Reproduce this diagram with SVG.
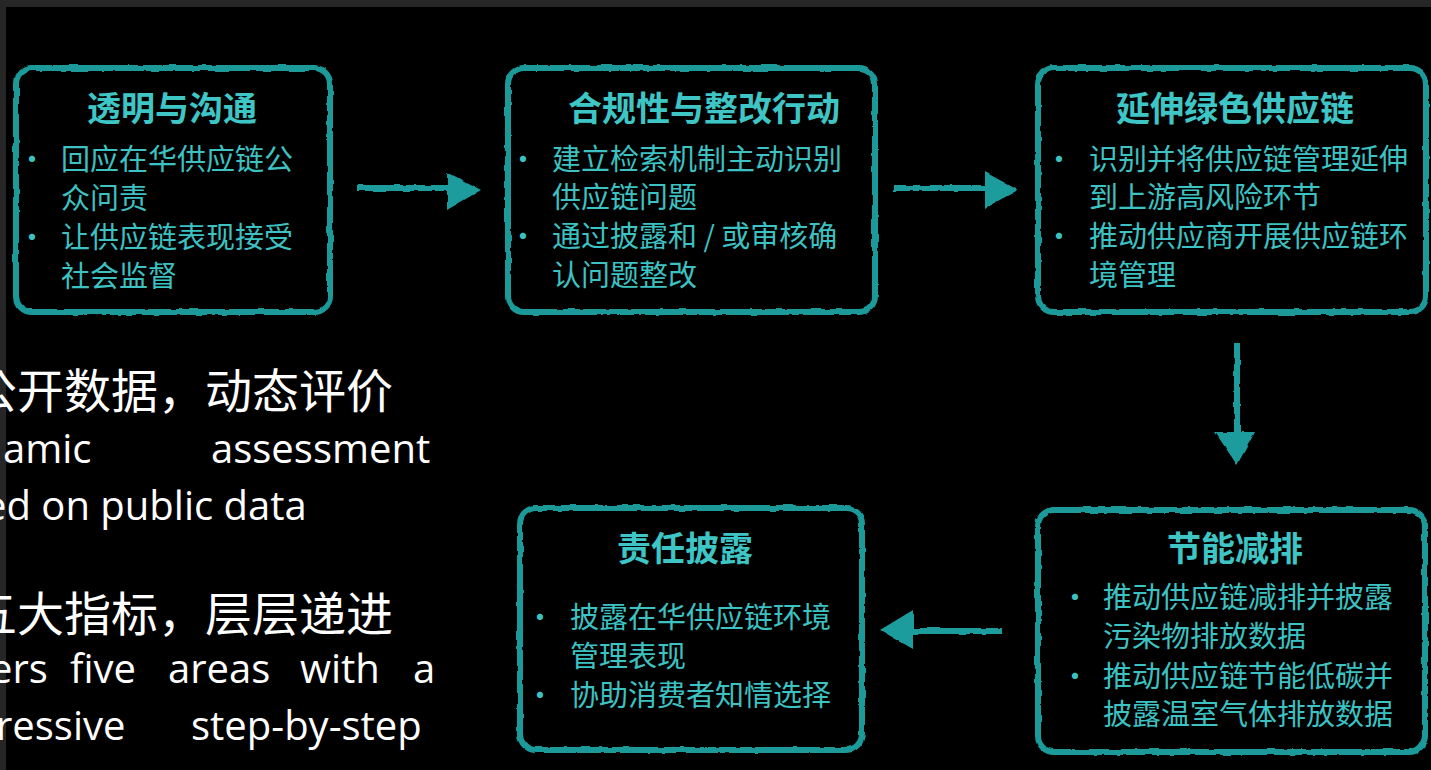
<svg xmlns="http://www.w3.org/2000/svg" width="1431" height="770" viewBox="0 0 1431 770">
<defs>
<filter id="rough" filterUnits="userSpaceOnUse" x="0" y="0" width="1431" height="770">
<feTurbulence type="fractalNoise" baseFrequency="0.09" numOctaves="2" seed="4" result="n"/>
<feDisplacementMap in="SourceGraphic" in2="n" scale="3.5" xChannelSelector="R" yChannelSelector="G"/>
</filter>
<style>
.box{fill:#000;stroke:#1a9a9a;stroke-width:6;filter:url(#rough)}
.title{font-family:"Noto Sans CJK SC","Noto Sans",sans-serif;font-weight:bold;font-size:34px;fill:#3ec6c6;text-anchor:middle}
.body{font-family:"Noto Sans CJK SC","Noto Sans",sans-serif;font-size:29px;fill:#3cc2c2}
.bul{font-family:"Noto Sans CJK SC","Noto Sans",sans-serif;font-size:29px;fill:#3cc2c2;text-anchor:middle}
.shaft{stroke:#1c9c9c;stroke-width:6;fill:none;filter:url(#rough)}
.head{fill:#1c9c9c;filter:url(#rough)}
.cn{font-family:"Noto Sans CJK SC","Noto Sans",sans-serif;font-size:47px;fill:#ffffff}
.en{font-family:"Open Sans","Liberation Sans",sans-serif;font-size:40px;fill:#ffffff}
</style>
</defs>
<rect x="0" y="0" width="1431" height="770" fill="#000"/>
<rect x="0" y="0" width="1431" height="7" fill="#262626"/>
<rect x="0" y="0" width="6" height="770" fill="#262626"/>

<g id="left-text">
<text class="cn" x="-30" y="408">公开数据，动态评价</text>
<text class="en" x="3" y="463">amic</text>
<text class="en" x="211" y="463">assessment</text>
<text class="en" x="-16" y="520">ed on public data</text>
<text class="cn" x="-30" y="631">五大指标，层层递进</text>
<text class="en" x="-10" y="683">ers</text>
<text class="en" x="70" y="683">five</text>
<text class="en" x="168" y="683">areas</text>
<text class="en" x="300" y="683">with</text>
<text class="en" x="413" y="683">a</text>
<text class="en" x="-4" y="740">ressive</text>
<text class="en" x="191" y="740">step-by-step</text>
</g>

<g id="connectors">
<g id="c1"><path class="shaft" d="M357 188 H452"/><polygon class="head" points="447,172 481,190 447,210"/></g>
<g id="c2"><path class="shaft" d="M893 188 H988"/><polygon class="head" points="985,172 1018,190 985,208"/></g>
<g id="c3"><path class="shaft" d="M1237 343 V436"/><polygon class="head" points="1215,432 1255,432 1237,465"/></g>
<g id="c4"><path class="shaft" d="M1003 631 H908"/><polygon class="head" points="913,610 880,630 913,649"/></g>
</g>

<g id="node1">
<rect class="box" x="16" y="68" width="314" height="244" rx="16"/>
<text class="title" x="172" y="121">透明与沟通</text>
<text class="bul" x="32" y="170">·</text>
<text class="body" x="61" y="170">回应在华供应链公</text>
<text class="body" x="61" y="209">众问责</text>
<text class="bul" x="32" y="248">·</text>
<text class="body" x="61" y="248">让供应链表现接受</text>
<text class="body" x="61" y="287">社会监督</text>
</g>

<g id="node2">
<rect class="box" x="508" y="68" width="367" height="244" rx="16"/>
<text class="title" x="704" y="121">合规性与整改行动</text>
<text class="bul" x="523" y="170">·</text>
<text class="body" x="552" y="170">建立检索机制主动识别</text>
<text class="body" x="552" y="208">供应链问题</text>
<text class="bul" x="523" y="247">·</text>
<text class="body" x="552" y="247">通过披露和 / 或审核确</text>
<text class="body" x="552" y="286">认问题整改</text>
</g>

<g id="node3">
<rect class="box" x="1038" y="68" width="388" height="244" rx="16"/>
<text class="title" x="1235" y="121">延伸绿色供应链</text>
<text class="bul" x="1059" y="170">·</text>
<text class="body" x="1089" y="170">识别并将供应链管理延伸</text>
<text class="body" x="1089" y="208">到上游高风险环节</text>
<text class="bul" x="1059" y="247">·</text>
<text class="body" x="1089" y="247">推动供应商开展供应链环</text>
<text class="body" x="1089" y="286">境管理</text>
</g>

<g id="node4">
<rect class="box" x="1038" y="510" width="387" height="242" rx="16"/>
<text class="title" x="1235" y="561">节能减排</text>
<text class="bul" x="1075" y="608">·</text>
<text class="body" x="1103" y="608">推动供应链减排并披露</text>
<text class="body" x="1103" y="647">污染物排放数据</text>
<text class="bul" x="1075" y="687">·</text>
<text class="body" x="1103" y="687">推动供应链节能低碳并</text>
<text class="body" x="1103" y="725">披露温室气体排放数据</text>
</g>

<g id="node5">
<rect class="box" x="520" y="508" width="342" height="242" rx="16"/>
<text class="title" x="685" y="561">责任披露</text>
<text class="bul" x="540" y="628">·</text>
<text class="body" x="570" y="628">披露在华供应链环境</text>
<text class="body" x="570" y="667">管理表现</text>
<text class="bul" x="540" y="706">·</text>
<text class="body" x="570" y="706">协助消费者知情选择</text>
</g>
</svg>
